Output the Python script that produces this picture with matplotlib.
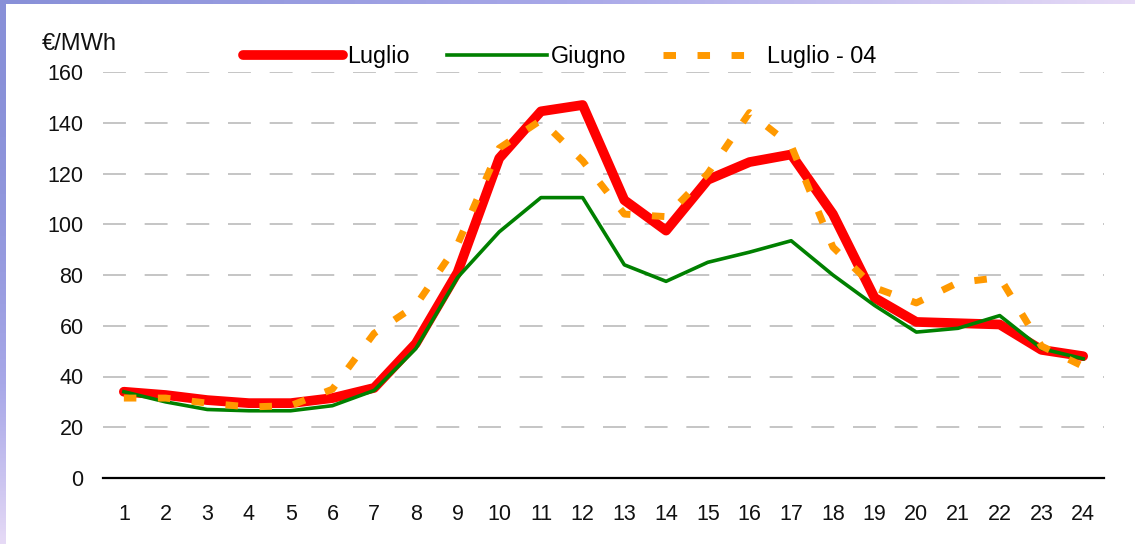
import matplotlib
matplotlib.use('Agg')
import matplotlib.pyplot as plt
import numpy as np
from matplotlib.colors import LinearSegmentedColormap

plt.rcParams['font.family'] = ['Liberation Sans', 'DejaVu Sans']
plt.rcParams['lines.scale_dashes'] = False

# data
ore = list(range(1, 25))
luglio = [34, 32.7, 30.7, 29.5, 29.5, 31.5, 35.5, 53, 81, 126, 144.5, 147,
          109.5, 97.5, 117.5, 124.5, 127.5, 104, 71, 61.5, 61, 60.5, 50.5, 48]
giugno = [34, 30, 27, 26.5, 26.5, 28.5, 34.5, 51, 79, 97, 110.5, 110.5,
          84, 77.5, 85, 89, 93.5, 80, 68, 57.5, 59, 64, 51, 47]
luglio04 = [31.5, 31.5, 29.5, 28, 28.5, 35, 57, 68, 92, 130, 141, 125,
            104, 103, 120, 144, 131, 91, 75, 69, 77, 79, 52, 44]
yticks = [0, 20, 40, 60, 80, 100, 120, 140, 160]

fig = plt.figure(figsize=(11.35, 5.44), dpi=100)
fig.patch.set_facecolor('white')

# bluish frame at left and top
bg = fig.add_axes([0, 0, 1, 1], zorder=-5)
bg.set_xlim(0, 1135)
bg.set_ylim(544, 0)
bg.axis('off')
cmap = LinearSegmentedColormap.from_list('frame', ['#8890d8', '#a8a8e8', '#e6daf6'])
grad = np.linspace(0, 1, 256)
bg.imshow(grad[np.newaxis, :], cmap=cmap, extent=(0, 1135, 4, 0), aspect='auto')
bg.imshow(grad[:, np.newaxis] ** 2, cmap=cmap, extent=(0, 6, 544, 0), aspect='auto')

ax = fig.add_axes([103 / 1135, 66 / 544, 1001 / 1135, 406 / 544])
ax.set_facecolor('none')

ax.plot(ore, luglio, color='#ff0000', lw=7, label='Luglio', zorder=3,
        solid_capstyle='round')
ax.plot(ore, giugno, color='#008000', lw=2.6, label='Giugno', zorder=4)
ax.plot(ore, luglio04, color='#ff9900', lw=5, label='Luglio - 04', zorder=5,
        linestyle=(0, (9, 15.5)), dash_capstyle='butt')

ax.set_xlim(0.5, 24.5)
ax.set_ylim(0, 160)
ax.set_xticks(ore)
ax.set_yticks(yticks)
for v in yticks[1:]:
    ax.axhline(v, color='#c0c0c0', lw=1.3, linestyle=(0, (16.5, 13.5)), zorder=1)
ax.axhline(0, color='black', lw=1.6, zorder=6, clip_on=False)

for s in ax.spines.values():
    s.set_visible(False)
ax.tick_params(axis='both', length=0, labelsize=15.5, colors='#111111')
ax.tick_params(axis='y', pad=14)
ax.tick_params(axis='x', pad=19)

fig.text(42 / 1135, 1 - 44 / 544, '€/MWh', fontsize=17, color='#111111',
         ha='left', va='center')

leg = ax.legend(loc='center left', bbox_to_anchor=(243 / 1135, 1 - 57 / 544),
                bbox_transform=fig.transFigure, ncol=3, frameon=False,
                fontsize=16.8, handlelength=4.3, handletextpad=0.15,
                columnspacing=1.6, borderpad=0, borderaxespad=0)

fig.savefig('out.png', dpi=100)
